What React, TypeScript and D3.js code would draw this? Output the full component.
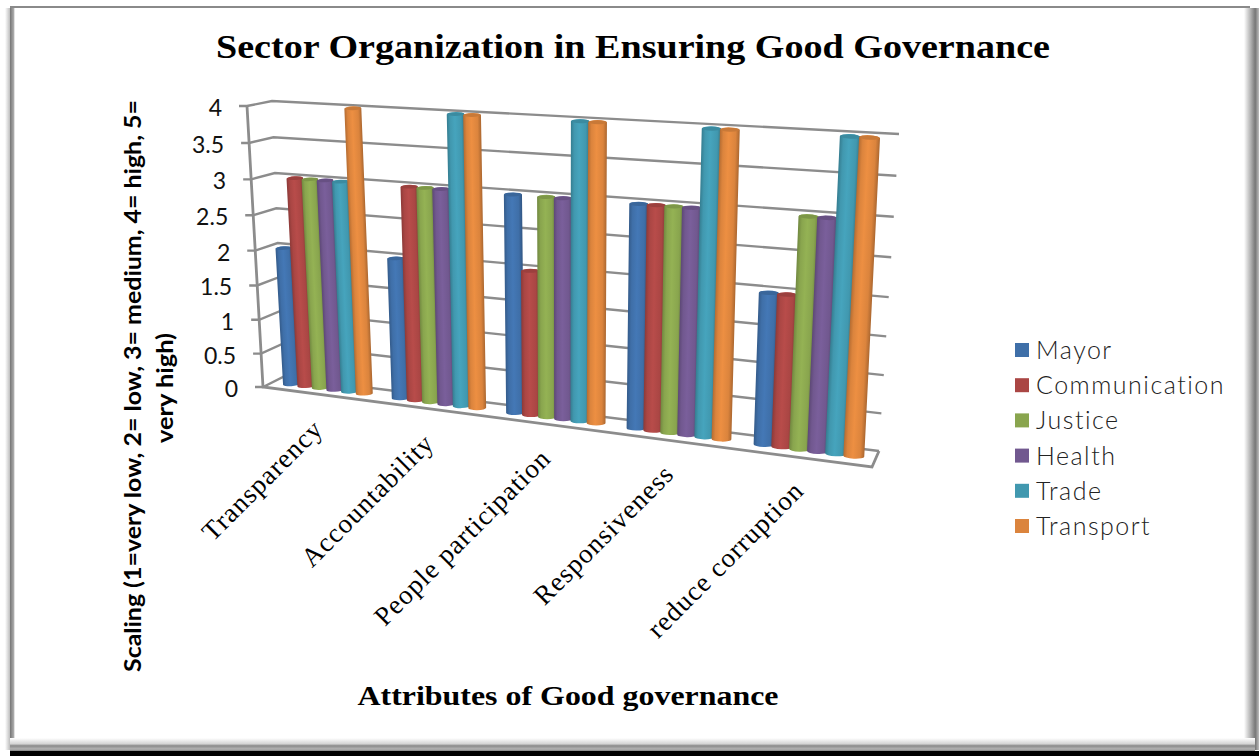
import React from "react";
import * as d3 from "d3";

const categories = ["Transparency", "Accountability", "People participation", "Responsiveness", "reduce corruption"];
const seriesNames = ["Mayor", "Communication", "Justice", "Health", "Trade", "Transport"];
const mayor = [2, 2, 3, 3, 2];
const communication = [3, 3, 2, 3, 2];
const justice = [3, 3, 3, 3, 3];
const health = [3, 3, 3, 3, 3];
const trade = [3, 4, 4, 4, 4];
const transport = [4, 4, 4, 4, 4];
const seriesValues = [mayor, communication, justice, health, trade, transport];
const seriesColors = ["#3f6fa8", "#aa4644", "#89a54e", "#71588f", "#4198af", "#db843d"];
const yTicks = [0, 0.5, 1, 1.5, 2, 2.5, 3, 3.5, 4];

type Pt = [number, number];
const mix = (a: Pt, b: Pt, t: number): Pt => [a[0] + (b[0] - a[0]) * t, a[1] + (b[1] - a[1]) * t];
// Foreshortening along the width and height of the 3-D box.
const acrossT = (u: number) => u / (u + (1 - u) * 1.14);
const upT = (v: number) => v / (v + (1 - v) * 1.06);

const valueScale = d3.scaleLinear().domain([0, 4]).range([0, 1]);
const catBand = d3.scaleBand<number>().domain(d3.range(5)).range([0, 1]).paddingInner(0.19).paddingOuter(0.095);
const serBand = d3.scaleBand<number>().domain(d3.range(6)).range([0, catBand.bandwidth()]);

// Corners of one vertical plane of the box.
const plane = (bl: Pt, tl: Pt, br: Pt, tr: Pt) => (u: number, value: number): Pt => {
  const t = acrossT(u);
  return mix(mix(bl, br, t), mix(tl, tr, t), upT(valueScale(value)));
};
const backWall = plane([283, 377], [272, 101], [879, 451], [899, 134]);
const midPlane = plane([274, 382], [257.5, 103], [876, 459], [893, 139]);
const axisBottom: Pt = [263, 387];
const axisTop: Pt = [247, 106];
const axisAt = (v: number) => mix(axisBottom, axisTop, upT(valueScale(v)));
const floorFrontRight: Pt = [872, 467];

const gridColor = "#8c8c8c";
const sans = "Lato, 'Open Sans', sans-serif";
const serif = "'Liberation Serif', serif";

function Bar({ u, du, value, color, gid }: { u: number; du: number; value: number; color: string; gid: string }) {
  const base = midPlane(u, 0);
  const top = midPlane(u, value);
  const left = midPlane(u - du / 2, 0);
  const right = midPlane(u + du / 2, 0);
  const rx = (Math.hypot(right[0] - left[0], right[1] - left[1]) / 2) * 1.13;
  const ry = rx * 0.24;
  const ang = Math.atan2(top[0] - base[0], base[1] - top[1]);
  const len = Math.hypot(top[0] - base[0], top[1] - base[1]);
  const deg = (ang * 180) / Math.PI;
  const d = `M${-rx},0 L${-rx},${-len} A${rx},${ry} 0 0 1 ${rx},${-len} L${rx},0 A${rx},${ry} 0 0 1 ${-rx},0 Z`;
  return (
    <g transform={`translate(${base[0]},${base[1]}) rotate(${deg})`}>
      <path d={d} fill={`url(#${gid})`} />
      <ellipse cx={0} cy={-len} rx={rx * 0.96} ry={ry * 0.85} fill={d3.color(color)!.darker(0.25).formatHex()} />
    </g>
  );
}

export default function App() {
  return (
    <svg width={1259} height={756} style={{ position: "absolute", left: 0, top: 0, background: "#fff" }}>
      <defs>
        {seriesColors.map((c, i) => {
          const col = d3.color(c)!;
          return (
            <linearGradient key={c} id={`bar${i}`} x1="0" x2="1" y1="0" y2="0">
              <stop offset="0" stopColor={col.darker(0.55).formatHex()} />
              <stop offset="0.18" stopColor={col.formatHex()} />
              <stop offset="0.45" stopColor={col.brighter(0.22).formatHex()} />
              <stop offset="0.8" stopColor={col.formatHex()} />
              <stop offset="1" stopColor={col.darker(0.7).formatHex()} />
            </linearGradient>
          );
        })}
        <linearGradient id="edgeLeft" x1="0" x2="1" y1="0" y2="0">
          <stop offset="0" stopColor="#ffffff" />
          <stop offset="0.45" stopColor="#c4c4c4" />
          <stop offset="0.55" stopColor="#7c7c7c" />
          <stop offset="0.85" stopColor="#a8a8a8" />
          <stop offset="1" stopColor="#ffffff" />
        </linearGradient>
        <linearGradient id="edgeRight" x1="1" x2="0" y1="0" y2="0">
          <stop offset="0" stopColor="#bdbdbd" />
          <stop offset="0.25" stopColor="#777" />
          <stop offset="0.55" stopColor="#b0b0b0" />
          <stop offset="1" stopColor="#fff" />
        </linearGradient>
        <linearGradient id="edgeBottom" x1="0" x2="0" y1="0" y2="1">
          <stop offset="0" stopColor="#ffffff" />
          <stop offset="0.45" stopColor="#d4d4d4" />
          <stop offset="0.6" stopColor="#8a8a8a" />
          <stop offset="0.85" stopColor="#b4b4b4" />
          <stop offset="1" stopColor="#808080" />
        </linearGradient>
      </defs>

      {/* Picture frame */}
      <rect x={0} y={0} width={1259} height={756} fill="#fff" />
      <rect x={5} y={8} width={10} height={742} fill="url(#edgeLeft)" />
      <rect x={1244} y={8} width={15} height={742} fill="url(#edgeRight)" />
      <rect x={10} y={6} width={1240} height={2} fill="#8a8a8a" />
      <rect x={10} y={738} width={1245} height={13} fill="url(#edgeBottom)" />
      <rect x={10} y={751} width={1249} height={5} fill="#000" />

      <text x={633} y={58} textAnchor="middle" fontFamily={serif} fontWeight="bold" fontSize={34} textLength={834} lengthAdjust="spacingAndGlyphs">
        Sector Organization in Ensuring Good Governance
      </text>

      {/* Gridlines on the back and side walls */}
      {yTicks.map((v) => {
        const a = axisAt(v);
        const b = backWall(0, v);
        const c = backWall(1, v);
        return (
          <polyline
            key={v}
            stroke={gridColor}
            strokeWidth={2.4}
            fill="none"
            points={[[a[0] - 8, a[1]], a, b, c].map((p) => p.join(",")).join(" ")}
          />
        );
      })}
      <polyline
        points={[axisTop, axisBottom, floorFrontRight, backWall(1, 0)].map((p) => p.join(",")).join(" ")}
        fill="none"
        stroke={gridColor}
        strokeWidth={2.8}
      />

      {/* Value axis labels */}
      {yTicks.map((v) => {
        const a = axisAt(v);
        return (
          <text key={v} x={a[0] - 25} y={a[1] + 10} textAnchor="end" fontFamily={sans} fontSize={23} fill="#111">
            {v}
          </text>
        );
      })}

      {/* Cylinders, one cluster per category */}
      {categories.map((_, ci) =>
        seriesNames.map((_, si) => {
          const u = catBand(ci)! + serBand(si)! + serBand.bandwidth() / 2;
          return <Bar key={`${ci}-${si}`} u={u} du={serBand.bandwidth()} value={seriesValues[si][ci]} color={seriesColors[si]} gid={`bar${si}`} />;
        })
      )}

      {/* Category labels */}
      {categories.map((c, i) => {
        const base = midPlane(catBand(i)! + catBand.bandwidth() / 2, 0);
        return (
          <text key={c} transform={`translate(${base[0] - 3},${base[1] + 42}) rotate(-45)`} textAnchor="end" fontFamily={serif} fontSize={27} letterSpacing={1} fill="#000">
            {c}
          </text>
        );
      })}

      {/* Axis titles */}
      <text transform="translate(141,672) rotate(-90)" fontFamily={sans} fontWeight="bold" fontSize={23} textLength={572} lengthAdjust="spacingAndGlyphs">
        Scaling (1=very low, 2= low, 3= medium, 4= high, 5=
      </text>
      <text transform="translate(173,443) rotate(-90)" fontFamily={sans} fontWeight="bold" fontSize={23} textLength={110} lengthAdjust="spacingAndGlyphs">
        very high)
      </text>
      <text x={568} y={705} textAnchor="middle" fontFamily={serif} fontWeight="bold" fontSize={27} textLength={421} lengthAdjust="spacingAndGlyphs">
        Attributes of Good governance
      </text>

      {/* Legend */}
      {seriesNames.map((s, i) => (
        <g key={s} transform={`translate(1015,${350 + i * 35.2})`}>
          <rect x={0} y={-7} width={14} height={14} fill={seriesColors[i]} />
          <text x={21} y={9} fontFamily={sans} fontWeight={300} fontSize={25} fill="#222" letterSpacing={1.5}>
            {s}
          </text>
        </g>
      ))}
    </svg>
  );
}
